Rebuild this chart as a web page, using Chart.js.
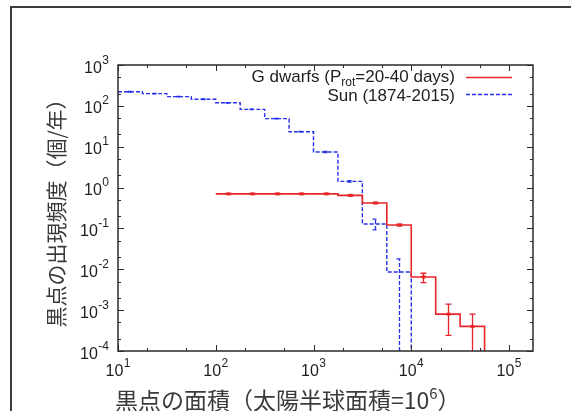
<!DOCTYPE html>
<html>
<head>
<meta charset="utf-8">
<title>黒点の面積と出現頻度</title>
<script src="https://cdn.jsdelivr.net/npm/chart.js@4"></script>
<style>
  html, body { margin: 0; padding: 0; background: #fff; }
  canvas { display: block; }
</style>
</head>
<body>
<canvas id="spotChart" width="571" height="411"></canvas>
<script>
// axis ranges and ticks
const X_MIN = 10, X_MAX = 1.76e5;
const Y_MIN = 1e-4, Y_MAX = 1e3;
const xMajor = [10, 100, 1000, 10000, 100000];
const xMajorExp = ['1', '2', '3', '4', '5'];
const xMinor = [20, 50, 200, 500, 2000, 5000, 20000, 50000];
const yMajor = [1e-4, 1e-3, 1e-2, 1e-1, 1, 10, 100, 1000];
const yMajorExp = ['-4', '-3', '-2', '-1', '0', '1', '2', '3'];
const yMinor = [2e-4, 5e-4, 2e-3, 5e-3, 2e-2, 5e-2, 0.2, 0.5, 2, 5, 20, 50, 200, 500];

// Sun (1874-2015): bin edges, frequency and error range
const sunEdges = [10, 17.78, 31.62, 56.23, 100, 177.8, 316.2, 562.3, 1000, 1778, 3162, 5623, 10000];
const sunFreq  = [222, 199, 168, 145, 119, 82, 48.6, 23.3, 7.4, 1.42, 0.128, 0.0086];
const sunErrLo = [218, 196, 166, 143, 117.5, 81, 48, 23, 7.15, 1.36, 0.092, Y_MIN];
const sunErrHi = [226, 202, 170, 147, 120.5, 83, 49.2, 23.6, 7.65, 1.48, 0.168, 0.018];

// G dwarfs (Prot = 20-40 days)
const gdEdges = [100, 177.8, 316.2, 562.3, 1000, 1778, 3162, 5623, 10000, 17783, 31623, 56234];
const gdFreq  = [0.70, 0.70, 0.70, 0.70, 0.70, 0.645, 0.42, 0.121, 0.0065, 0.0008, 0.0004];
const gdErrLo = [0.685, 0.685, 0.685, 0.685, 0.685, 0.63, 0.405, 0.115, 0.0047, 0.00024, Y_MIN];
const gdErrHi = [0.715, 0.715, 0.715, 0.715, 0.715, 0.66, 0.435, 0.127, 0.0080, 0.0014, 0.0008];

const RED = '#e8262a';
const BLUE = '#2430ec';
const BLUE_DASH = [4, 2];

// histogram outline: each bin starts at its left edge, last one drops to the axis
function stepPoints(edges, vals) {
    const pts = vals.map((v, i) => ({x: edges[i], y: v}));
    const last = edges[edges.length - 1];
    pts.push({x: last, y: vals[vals.length - 1]});
    pts.push({x: last, y: Y_MIN});
    return pts;
}

function drawErrors(ctx, chart, edges, vals, lo, hi, color, dash, marker) {
    const xs = chart.scales.x, ys = chart.scales.y;
    ctx.strokeStyle = color;
    ctx.fillStyle = color;
    ctx.lineWidth = 1.3;
    ctx.setLineDash(dash);
    for (let i = 0; i < vals.length; i++) {
        const px = Math.round(xs.getPixelForValue(Math.sqrt(edges[i] * edges[i + 1]))) + 0.5;
        const yLo = ys.getPixelForValue(lo[i]);
        const yHi = ys.getPixelForValue(hi[i]);
        ctx.beginPath();
        ctx.moveTo(px, yLo);
        ctx.lineTo(px, yHi);
        // caps
        if (lo[i] > Y_MIN) {
            ctx.moveTo(px - 3, yLo);
            ctx.lineTo(px + 3, yLo);
        }
        ctx.moveTo(px - 3, yHi);
        ctx.lineTo(px + 3, yHi);
        ctx.stroke();
        if (marker) {
            const py = ys.getPixelForValue(vals[i]);
            ctx.fillRect(px - 2, py - 1.5, 4, 3);
        }
    }
    ctx.setLineDash([]);
}

// "10" with a raised exponent
function drawPower(ctx, exp, x, y, align) {
    ctx.font = '16px "Liberation Sans", Arial, sans-serif';
    const wBase = ctx.measureText('10').width;
    ctx.font = '12px "Liberation Sans", Arial, sans-serif';
    const wExp = ctx.measureText(exp).width;
    const w = wBase + wExp + 0.5;
    const x0 = align === 'center' ? x - w / 2 : x - w;
    ctx.textAlign = 'left';
    ctx.textBaseline = 'alphabetic';
    ctx.font = '16px "Liberation Sans", Arial, sans-serif';
    ctx.fillText('10', x0, y);
    ctx.font = '12px "Liberation Sans", Arial, sans-serif';
    ctx.fillText(exp, x0 + wBase + 0.5, y - 9);
}

const decor = {
    id: 'decor',
    beforeDraw(chart) {
        const ctx = chart.ctx;
        ctx.save();
        ctx.fillStyle = '#3c3c3c';
        ctx.fillRect(10, 6, 2, chart.height);
        ctx.fillRect(10, 6, chart.width, 2);
        ctx.restore();
    },
    afterDatasetsDraw(chart) {
        const ctx = chart.ctx;
        const a = chart.chartArea;
        ctx.save();
        ctx.beginPath();
        ctx.rect(a.left, a.top, a.right - a.left, a.bottom - a.top);
        ctx.clip();
        drawErrors(ctx, chart, sunEdges, sunFreq, sunErrLo, sunErrHi, BLUE, BLUE_DASH, false);
        drawErrors(ctx, chart, gdEdges, gdFreq, gdErrLo, gdErrHi, RED, [], true);
        ctx.restore();
    },
    afterDraw(chart) {
        const ctx = chart.ctx;
        const a = chart.chartArea;
        const xs = chart.scales.x, ys = chart.scales.y;
        ctx.save();

        // plot box
        ctx.strokeStyle = '#2a2a2a';
        ctx.lineWidth = 1.5;
        ctx.strokeRect(a.left, a.top, a.right - a.left, a.bottom - a.top);

        // inward ticks on all four sides
        ctx.lineWidth = 1;
        ctx.beginPath();
        const xTick = (v, len) => {
            const px = Math.round(xs.getPixelForValue(v)) + 0.5;
            ctx.moveTo(px, a.bottom); ctx.lineTo(px, a.bottom - len);
            ctx.moveTo(px, a.top); ctx.lineTo(px, a.top + len);
        };
        const yTick = (v, len) => {
            const py = Math.round(ys.getPixelForValue(v)) + 0.5;
            ctx.moveTo(a.left, py); ctx.lineTo(a.left + len, py);
            ctx.moveTo(a.right, py); ctx.lineTo(a.right - len, py);
        };
        xMajor.forEach(v => xTick(v, 6));
        xMinor.forEach(v => xTick(v, 3));
        yMajor.forEach(v => yTick(v, 6));
        yMinor.forEach(v => yTick(v, 3));
        ctx.stroke();

        // tick labels
        ctx.fillStyle = '#1e1e1e';
        xMajor.forEach((v, i) => drawPower(ctx, xMajorExp[i], xs.getPixelForValue(v), a.bottom + 25, 'center'));
        yMajor.forEach((v, i) => drawPower(ctx, yMajorExp[i], a.left - 9, ys.getPixelForValue(v) + 7.5, 'right'));

        // axis titles
        ctx.fillStyle = '#3a3a3a';
        ctx.font = '23px "Noto Sans CJK JP", sans-serif';
        ctx.textAlign = 'left';
        ctx.textBaseline = 'alphabetic';
        const xt = '黒点の面積（太陽半球面積=10';
        ctx.fillText(xt, 115, 409);
        const wx = ctx.measureText(xt).width;
        ctx.font = '15px "Noto Sans CJK JP", sans-serif';
        ctx.fillText('6', 115 + wx, 399);
        const w6 = ctx.measureText('6').width;
        ctx.font = '23px "Noto Sans CJK JP", sans-serif';
        ctx.fillText('）', 115 + wx + w6, 409);

        ctx.save();
        ctx.translate(56, (a.top + a.bottom) / 2);
        ctx.rotate(-Math.PI / 2);
        ctx.font = '21px "Noto Sans CJK JP", sans-serif';
        ctx.textAlign = 'center';
        ctx.textBaseline = 'middle';
        ctx.fillText('黒点の出現頻度（個/年）', 0, 0);
        ctx.restore();

        // legend
        const textRight = 455;
        ctx.fillStyle = '#1e1e1e';
        ctx.textAlign = 'left';
        ctx.textBaseline = 'alphabetic';
        const big = '17px "Liberation Sans", Arial, sans-serif';
        const small = '12px "Liberation Sans", Arial, sans-serif';
        ctx.font = big;
        const p1 = 'G dwarfs (P', p3 = '=20-40 days)';
        const w1 = ctx.measureText(p1).width, w3 = ctx.measureText(p3).width;
        ctx.font = small;
        const w2 = ctx.measureText('rot').width;
        let lx = textRight - (w1 + w2 + w3);
        ctx.font = big;
        ctx.fillText(p1, lx, 82);
        ctx.font = small;
        ctx.fillText('rot', lx + w1, 86);
        ctx.font = big;
        ctx.fillText(p3, lx + w1 + w2, 82);
        const sunLabel = 'Sun (1874-2015)';
        ctx.fillText(sunLabel, textRight - ctx.measureText(sunLabel).width, 100.5);

        ctx.lineWidth = 1.5;
        ctx.strokeStyle = RED;
        ctx.beginPath();
        ctx.moveTo(466, 77.5); ctx.lineTo(512, 77.5);
        ctx.stroke();
        ctx.strokeStyle = BLUE;
        ctx.setLineDash(BLUE_DASH);
        ctx.beginPath();
        ctx.moveTo(466, 94.5); ctx.lineTo(512, 94.5);
        ctx.stroke();
        ctx.restore();
    }
};

new Chart(document.getElementById('spotChart').getContext('2d'), {
    type: 'line',
    data: {
        datasets: [{
            label: 'G dwarfs (Prot=20-40 days)',
            data: stepPoints(gdEdges, gdFreq),
            borderColor: RED,
            borderWidth: 1.6,
            stepped: 'before',
            pointRadius: 0,
            fill: false
        }, {
            label: 'Sun (1874-2015)',
            data: stepPoints(sunEdges, sunFreq),
            borderColor: BLUE,
            borderWidth: 1.4,
            borderDash: BLUE_DASH,
            stepped: 'before',
            pointRadius: 0,
            fill: false
        }]
    },
    options: {
        responsive: false,
        animation: false,
        layout: {
            padding: {left: 118, top: 65, right: 38, bottom: 60}
        },
        plugins: {
            legend: {display: false},
            tooltip: {enabled: false}
        },
        scales: {
            x: {
                type: 'logarithmic',
                min: X_MIN,
                max: X_MAX,
                display: false
            },
            y: {
                type: 'logarithmic',
                min: Y_MIN,
                max: Y_MAX,
                display: false
            }
        }
    },
    plugins: [decor]
});
</script>
</body>
</html>
